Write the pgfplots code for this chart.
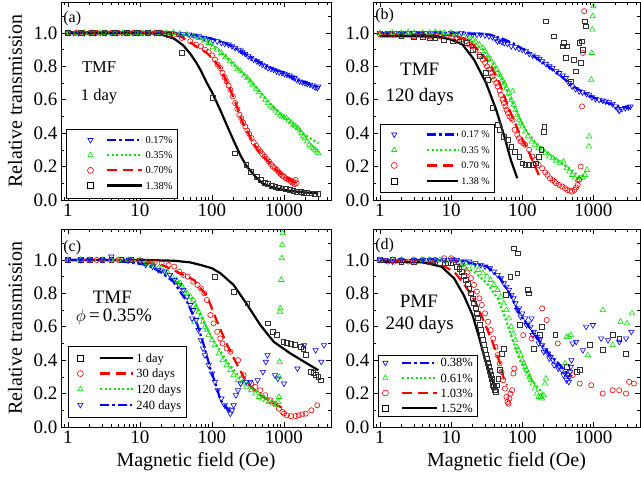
\documentclass[border=0pt]{standalone}
\usepackage{fontspec}
\setmainfont{Liberation Serif}
\usepackage{pgfplots}
\pgfplotsset{compat=1.18}
\pgfkeys{/pgf/number format/assume math mode=true}
\definecolor{mgreen}{RGB}{10,225,10}
\definecolor{mgray}{RGB}{50,50,50}
\tikzset{
  ann/.style={font=\fontsize{19}{19}\selectfont, anchor=base, inner sep=0pt},
  anna/.style={font=\fontsize{16.5}{16.5}\selectfont, anchor=base, inner sep=0pt},
  plab/.style={font=\fontsize{16}{16}\selectfont, anchor=base west, inner sep=0pt},
}
\pgfplotsset{
  mB/.style={only marks, mark=triangle, mark size=3.1pt, blue, mark options={rotate=180, line width=0.6pt, solid}, forget plot},
  mG/.style={only marks, mark=triangle, mark size=3.1pt, mgreen, mark options={line width=0.6pt, solid}, forget plot},
  mR/.style={only marks, mark=o, mark size=2.6pt, red, mark options={line width=0.6pt, solid}, forget plot},
  mK/.style={only marks, mark=square, mark size=2.4pt, mgray, mark options={line width=0.6pt, solid}, forget plot},
  lB/.style={blue, line width=2.2pt, dash pattern=on 9pt off 3pt on 2.5pt off 3pt, no marks},
  lG/.style={mgreen, line width=2.2pt, dash pattern=on 2pt off 2.4pt, no marks},
  lR/.style={red, line width=2.2pt, dash pattern=on 10pt off 5.5pt, no marks},
  lK/.style={black, line width=2.2pt, solid, no marks},
  LI/.style n args={6}{legend image code/.code={
     \node[inner sep=0pt, outer sep=0pt, anchor=west, draw=none, fill=none] at (0pt,0pt) {\tikz{
       \path[draw=none, fill=none] (0pt,-3.6pt) rectangle (#6,3.6pt);
       \path[draw=#1, line width=0.6pt, solid, mark size=3pt] plot[only marks, mark=#2] coordinates {(#4,0pt)};
       \path[draw=#1, line width=2.2pt, #3] (#5,0pt) -- (#6,0pt);
     }};
  }},
  mypanel/.style={
    scale only axis, xmin=0.8, xmax=4500, ymin=0, ymax=1.185,
    xtick={1,10,100,1000}, xticklabels={1,10,100,1000},
    minor xtick={0.9,2,3,4,5,6,7,8,9,20,30,40,50,60,70,80,90,200,300,400,500,600,700,800,900,2000,3000,4000},
    ytick={0,0.2,0.4,0.6,0.8,1.0},
    minor ytick={0.1,0.3,0.5,0.7,0.9,1.1},
    yticklabel style={/pgf/number format/.cd, fixed, fixed zerofill, precision=1},
    tick label style={font=\fontsize{19}{19}\selectfont},
    label style={font=\fontsize{20}{20}\selectfont},
    major tick length=5pt, minor tick length=3pt,
    every tick/.style={black, line width=0.6pt},
    axis line style={line width=0.9pt},
    tick align=inside,
    legend cell align=left,
    ylabel style={at={(axis description cs:-0.17,0.5)}, anchor=center},
    xlabel style={at={(axis description cs:0.5,-0.177)}, anchor=center},
  },
}
\begin{document}
\begin{tikzpicture}
\path[use as bounding box] (0pt,0pt) rectangle (641pt,478pt);
% ---------------- (a)
\begin{axis}[xmode=log, mypanel, at={(61pt,278pt)}, anchor=south west, width=270pt, height=198pt,
  ylabel={Relative transmission},
  legend style={at={(0.019,0.008)}, anchor=south west, draw=black, line width=0.7pt,
    font=\fontsize{10.5}{12}\selectfont, inner xsep=3pt, inner ysep=5.5pt, row sep=2.7pt}]
\addplot[mB] coordinates {(1,1)(1.2,1)(1.4,1)(1.7,1)(2,1)(2.4,1)(2.8,1)(3.3,1)(4,1)(4.7,1)(5.6,1)(6.6,1)(8,1)(9.5,1)(11,1)(13,1)(16,1)(19,1)(23,1)(28,0.998)(34,0.995)(40,0.992)(48,0.99)(56,0.985)(66,0.98)(78,0.97)(90,0.965)(103,0.955)(118,0.95)(135,0.94)(150,0.935)(170,0.93)(190,0.92)(210,0.91)(236,0.90)(250,0.895)(265,0.885)(290,0.875)(320,0.86)(350,0.85)(380,0.84)(420,0.83)(460,0.82)(500,0.81)(550,0.80)(600,0.79)(660,0.785)(720,0.78)(790,0.77)(860,0.765)(940,0.76)(1020,0.755)(1100,0.75)(1200,0.745)(1300,0.735)(1400,0.73)(1500,0.72)(1650,0.71)(1800,0.705)(1950,0.70)(2100,0.695)(2300,0.69)(2500,0.685)(2700,0.675)(2900,0.67)(3000,0.68)};
\addplot[mG] coordinates {(1,1)(1.3,1)(1.7,1)(2.2,1)(2.8,1)(3.5,1)(4.5,1)(5.7,1)(7,1)(9,1)(11,1)(14,1)(18,1)(23,1)(29,1)(36,0.995)(45,0.99)(55,0.98)(66,0.97)(78,0.955)(90,0.94)(103,0.915)(118,0.90)(135,0.88)(155,0.855)(178,0.83)(200,0.81)(225,0.785)(250,0.77)(280,0.745)(310,0.73)(340,0.71)(370,0.69)(410,0.665)(450,0.645)(500,0.62)(550,0.60)(600,0.58)(650,0.56)(700,0.55)(760,0.535)(820,0.52)(880,0.505)(940,0.50)(1000,0.495)(1080,0.49)(1160,0.475)(1250,0.465)(1350,0.45)(1450,0.44)(1550,0.43)(1650,0.415)(1750,0.40)(1850,0.38)(1950,0.37)(2100,0.35)(2250,0.33)(2400,0.32)(2550,0.31)(2700,0.30)(2850,0.29)(3000,0.28)};
\addplot[mR] coordinates {(1,1)(1.3,1)(1.6,1)(2,1)(2.5,1)(3.2,1)(4,1)(5,1)(6.3,1)(8,1)(10,1)(12.5,1)(16,1)(20,1)(25,0.995)(30,0.99)(38,0.97)(50,0.95)(60,0.93)(70,0.92)(80,0.90)(90,0.885)(100,0.865)(110,0.84)(120,0.81)(130,0.79)(140,0.76)(150,0.735)(160,0.71)(170,0.685)(180,0.66)(195,0.62)(210,0.58)(225,0.545)(240,0.51)(255,0.49)(270,0.465)(290,0.44)(310,0.415)(330,0.395)(355,0.37)(380,0.345)(410,0.325)(440,0.305)(470,0.29)(500,0.275)(540,0.26)(580,0.245)(620,0.23)(660,0.215)(700,0.20)(750,0.19)(800,0.18)(850,0.165)(900,0.155)(950,0.145)(1000,0.14)(1060,0.13)(1120,0.125)(1180,0.12)(1250,0.115)(1300,0.105)(1350,0.11)(1400,0.095)(1450,0.12)(1500,0.10)};
\addplot[mK] coordinates {(1,1)(1.5,1)(2.2,1)(3.2,1)(4.5,1)(6.5,1)(9,1)(13,1)(18,1)(25,0.99)(38,0.88)(103,0.61)(210,0.28)(300,0.21)(350,0.17)(420,0.14)(480,0.12)(540,0.105)(600,0.095)(680,0.085)(760,0.08)(850,0.075)(950,0.07)(1050,0.065)(1200,0.06)(1350,0.055)(1500,0.05)(1700,0.05)(1900,0.045)(2100,0.045)(2400,0.04)(2700,0.035)(3000,0.035)};
\addplot[lB, LI={blue}{triangle, mark options={rotate=180}}{dash pattern=on 9pt off 3pt on 2.5pt off 3pt}{21pt}{38pt}{73pt}] coordinates {(1,1)(10,1)(30,0.997)(60,0.985)(100,0.965)(150,0.94)(200,0.915)(300,0.87)(500,0.815)(700,0.785)(1000,0.755)(1500,0.72)(2000,0.70)(3000,0.675)};
\addlegendentry{0.17\%}
\addplot[lG, LI={mgreen}{triangle}{dash pattern=on 2pt off 2.4pt}{21pt}{38pt}{73pt}] coordinates {(1,1)(20,1)(40,0.99)(70,0.965)(100,0.93)(130,0.89)(180,0.83)(250,0.77)(310,0.73)(400,0.68)(510,0.625)(700,0.56)(880,0.52)(1100,0.48)(1350,0.445)(1700,0.41)(2100,0.38)(2500,0.36)(3000,0.34)};
\addlegendentry{0.35\%}
\addplot[lR, LI={red}{o}{dash pattern=on 10pt off 5.5pt}{21pt}{38pt}{73pt}] coordinates {(1,1)(20,1)(30,0.99)(36,0.98)(49,0.945)(65,0.91)(85,0.88)(105,0.84)(130,0.79)(160,0.71)(196,0.62)(230,0.54)(270,0.46)(320,0.40)(375,0.34)(450,0.29)(580,0.24)(700,0.20)(880,0.16)(1100,0.13)(1350,0.11)(1500,0.10)};
\addlegendentry{0.70\%}
\addplot[lK, LI={black}{square}{solid}{21pt}{38pt}{73pt}] coordinates {(1,1)(10,1)(20,0.99)(30,0.965)(40,0.925)(50,0.875)(60,0.825)(70,0.775)(85,0.70)(100,0.645)(130,0.54)(160,0.45)(200,0.355)(250,0.265)(300,0.205)(400,0.14)(500,0.10)(700,0.075)(1000,0.06)(1500,0.05)(2000,0.045)(3000,0.04)};
\addlegendentry{1.38\%}
\node[plab] at (axis description cs:0.008,0.894) {(a)};
\node[anna] at (axis description cs:0.141,0.646) {TMF};
\node[anna] at (axis description cs:0.141,0.505) {1 day};
\end{axis}
% ---------------- (b)
\begin{axis}[xmode=log, mypanel, at={(373pt,278pt)}, anchor=south west, width=267pt, height=198pt,
  legend style={at={(0.026,0.035)}, anchor=south west, draw=black, line width=0.7pt,
    font=\fontsize{10}{12}\selectfont, inner xsep=3pt, inner ysep=5pt, row sep=3.3pt}]
\addplot[mB] coordinates {(1,1)(1.3,1)(1.6,1)(2,1)(2.5,1)(3,1)(3.7,1)(4.5,1)(5.5,1)(6.7,1)(8,0.995)(10,1)(12,0.995)(14,1)(17,0.995)(20,0.99)(23,0.99)(26,0.99)(30,0.985)(34,0.98)(38,0.975)(42,0.965)(45,0.95)(48,0.955)(52,0.945)(56,0.94)(62,0.935)(70,0.92)(80,0.915)(90,0.905)(100,0.90)(112,0.89)(125,0.875)(140,0.865)(160,0.855)(174,0.845)(190,0.83)(215,0.815)(240,0.80)(265,0.79)(300,0.77)(330,0.76)(370,0.745)(410,0.73)(450,0.70)(500,0.68)(560,0.665)(630,0.65)(700,0.645)(800,0.635)(870,0.63)(950,0.615)(1070,0.605)(1200,0.60)(1350,0.595)(1480,0.59)(1650,0.585)(1850,0.575)(2040,0.56)(2200,0.545)(2300,0.535)(2500,0.545)(2800,0.55)(3100,0.555)(3300,0.56)};
\addplot[mG] coordinates {(1,1)(1.5,1.0)(2,1.0)(2.5,1.005)(3,1.0)(4,1.0)(5,1.0)(6,1.005)(7,1.0)(8,1.0)(10,1.0)(12,0.99)(15,0.98)(18,0.97)(20,0.96)(22,0.95)(25,0.93)(28,0.91)(30,0.89)(33,0.86)(36,0.84)(40,0.81)(44,0.78)(48,0.75)(52,0.72)(56,0.70)(60,0.67)(65,0.64)(70,0.60)(73,0.65)(76,0.57)(80,0.54)(85,0.51)(90,0.48)(95,0.46)(100,0.44)(110,0.41)(120,0.38)(135,0.35)(150,0.33)(170,0.31)(190,0.30)(210,0.28)(240,0.26)(270,0.25)(300,0.235)(340,0.22)(380,0.23)(420,0.19)(460,0.17)(500,0.15)(550,0.13)(600,0.12)(650,0.13)(700,0.135)(760,0.15)(810,0.18)(860,0.32)(870,0.38)(930,0.72)(945,0.88)(960,1.02)(975,1.10)(1000,1.16)};
\addplot[mR] coordinates {(1,0.99)(1.5,0.99)(2,0.98)(3,0.98)(4,0.985)(5,0.98)(7,0.98)(10,0.975)(12,0.97)(14,0.96)(16,0.95)(18,0.93)(20,0.92)(22,0.90)(25,0.87)(28,0.84)(30,0.82)(32,0.80)(34,0.78)(36,0.76)(38,0.74)(40,0.72)(43,0.70)(45,0.68)(48,0.655)(50,0.63)(53,0.60)(55,0.58)(58,0.56)(60,0.54)(63,0.52)(66,0.50)(70,0.49)(73,0.48)(78,0.42)(85,0.39)(90,0.37)(95,0.35)(103,0.34)(110,0.33)(125,0.30)(138,0.26)(150,0.24)(170,0.21)(190,0.19)(210,0.165)(225,0.15)(245,0.13)(265,0.12)(285,0.11)(300,0.10)(330,0.09)(365,0.08)(400,0.07)(430,0.06)(470,0.055)(500,0.05)(540,0.06)(570,0.075)(600,0.09)(630,0.12)(660,0.20)(690,0.56)(710,0.88)(740,1.13)};
\addplot[mK] coordinates {(2,0.98)(3,0.975)(4,0.975)(5,0.97)(6,0.97)(8,0.96)(10.5,0.95)(13,0.95)(16.5,0.94)(20,0.90)(25,0.86)(31,0.76)(33,0.72)(38,0.55)(45,0.45)(48,0.42)(55,0.38)(62,0.36)(70,0.32)(78,0.29)(91,0.26)(100,0.22)(110,0.21)(125,0.21)(140,0.21)(155,0.22)(170,0.26)(185,0.30)(200,0.41)(204,0.44)(215,1.07)(280,0.98)(365,0.92)(385,0.94)(410,0.85)(428,0.92)(485,0.71)(535,0.84)(560,0.77)(630,0.94)(660,0.82)(690,0.95)(710,0.90)(760,1.07)(780,1.04)};
\addplot[lB, LI={blue}{triangle, mark options={rotate=180}}{dash pattern=on 9pt off 3pt on 2.5pt off 3pt}{11pt}{44pt}{75pt}] coordinates {(1,1)(10,1)(20,0.995)(35,0.99)(53,0.965)(77,0.935)(125,0.88)(215,0.81)(330,0.75)(500,0.685)(780,0.635)(1320,0.59)(2280,0.56)(3150,0.55)};
\addlegendentry{0.17 \%}
\addplot[lG, LI={mgreen}{triangle}{dash pattern=on 2pt off 2.4pt}{11pt}{44pt}{75pt}] coordinates {(1,1)(8.7,0.99)(18,0.96)(28,0.90)(38,0.82)(53,0.72)(66,0.62)(85,0.52)(112,0.42)(155,0.34)(265,0.26)(455,0.19)(630,0.14)(780,0.15)};
\addlegendentry{0.35 \%}
\addplot[lR, LI={red}{o}{dash pattern=on 10pt off 5.5pt}{11pt}{44pt}{75pt}] coordinates {(1,0.99)(10,0.985)(14,0.97)(18,0.95)(25,0.89)(35,0.82)(48,0.70)(66,0.54)(91,0.40)(126,0.28)(155,0.19)(175,0.14)};
\addlegendentry{0.70 \%}
\addplot[lK, LI={black}{square}{solid}{11pt}{44pt}{75pt}] coordinates {(1,0.98)(4,0.98)(7,0.975)(10,0.96)(14.5,0.93)(21,0.84)(31,0.70)(43,0.54)(56,0.38)(69,0.24)(85,0.13)};
\addlegendentry{1.38 \%}
\node[plab] at (axis description cs:0.008,0.91) {(b)};
\node[ann] at (axis description cs:0.175,0.63) {TMF};
\node[ann] at (axis description cs:0.175,0.495) {120 days};
\end{axis}
% ---------------- (c)
\begin{axis}[xmode=log, mypanel, at={(61pt,51pt)}, anchor=south west, width=270pt, height=198pt,
  ylabel={Relative transmission}, xlabel={Magnetic field (Oe)},
  legend style={at={(0.026,0.045)}, anchor=south west, draw=black, line width=0.7pt,
    font=\fontsize{12.5}{13}\selectfont, inner xsep=3pt, inner ysep=5pt, row sep=1.5pt}]
\addplot[mK] coordinates {(1,1)(1.5,1)(2,1)(3,1)(4,1)(5.5,1)(7.5,1)(10,0.995)(110,0.90)(200,0.81)(310,0.74)(590,0.62)(700,0.57)(800,0.55)(980,0.51)(1100,0.505)(1230,0.50)(1400,0.49)(1700,0.48)(1850,0.47)(1990,0.43)(2330,0.33)(2550,0.325)(2750,0.31)(3000,0.30)(3220,0.28)};
\addplot[mR] coordinates {(1,1)(1.5,1)(2,1)(2.5,1)(3,1)(4,1)(5,1)(7,1)(10,0.995)(13,0.99)(16,0.985)(20,0.98)(25,0.97)(30,0.96)(35,0.93)(40,0.91)(46,0.90)(55,0.87)(63,0.85)(70,0.83)(78,0.80)(85,0.76)(95,0.67)(105,0.62)(118,0.57)(130,0.53)(140,0.50)(160,0.47)(180,0.45)(230,0.40)(275,0.31)(350,0.26)(400,0.24)(470,0.22)(550,0.19)(650,0.16)(750,0.14)(850,0.11)(950,0.09)(1000,0.08)(1100,0.07)(1250,0.065)(1450,0.065)(1600,0.07)(1800,0.075)(2000,0.08)(2400,0.10)(2900,0.13)};
\addplot[mG] coordinates {(1,1)(1.5,1)(2,1)(3,1)(4,1)(5,1)(7,1)(10,1)(12,0.98)(15,0.97)(18,0.95)(20,0.95)(24,0.93)(28,0.90)(32,0.88)(36,0.86)(40,0.83)(45,0.80)(50,0.78)(55,0.76)(57,0.63)(60,0.72)(65,0.69)(70,0.66)(75,0.63)(80,0.60)(85,0.58)(90,0.55)(100,0.52)(110,0.49)(125,0.44)(140,0.40)(160,0.37)(180,0.34)(200,0.31)(230,0.28)(260,0.26)(300,0.24)(350,0.22)(400,0.20)(450,0.18)(500,0.17)(560,0.16)(620,0.15)(700,0.14)(770,0.13)(830,0.15)(850,0.18)(860,0.30)(870,0.39)(880,0.69)(890,0.71)(920,0.88)(935,1.01)(945,1.09)(960,1.16)};
\addplot[mB] coordinates {(1,1)(1.5,1)(2,1)(3,1)(4,1.02)(7,1)(10,0.99)(12,0.97)(15,0.96)(18,0.94)(22,0.93)(26,0.91)(30,0.88)(35,0.85)(40,0.82)(45,0.78)(50,0.73)(53,0.65)(55,0.70)(60,0.64)(65,0.58)(70,0.52)(75,0.47)(80,0.43)(90,0.37)(100,0.32)(110,0.27)(120,0.22)(135,0.17)(150,0.13)(165,0.11)(180,0.08)(190,0.10)(200,0.13)(215,0.19)(230,0.22)(250,0.26)(300,0.27)(340,0.27)(430,0.28)(510,0.33)(560,0.39)(590,0.43)(750,0.31)(820,0.29)(1000,0.26)(1540,0.35)(1900,0.49)(2750,0.46)(3300,0.39)(3600,0.49)};
\addplot[lK, LI={black}{square}{solid}{9pt}{29pt}{62pt}] coordinates {(1,1)(10,1)(30,0.995)(50,0.985)(69,0.97)(100,0.95)(131,0.92)(200,0.85)(310,0.73)(470,0.61)(720,0.51)(1230,0.44)(2090,0.38)(3000,0.34)};
\addlegendentry{1 day}
\addplot[lR, LI={red}{o}{dash pattern=on 10pt off 5.5pt}{9pt}{29pt}{62pt}] coordinates {(1,1)(10,0.995)(20,0.97)(29,0.94)(56,0.88)(86,0.78)(118,0.63)(163,0.49)(225,0.37)(310,0.26)(470,0.19)(810,0.13)(1000,0.11)};
\addlegendentry{30 days}
\addplot[lG, LI={mgreen}{triangle}{dash pattern=on 2pt off 2.4pt}{9pt}{29pt}{62pt}] coordinates {(1,1)(6.6,1)(12.6,0.98)(24,0.92)(36,0.85)(56,0.75)(77,0.63)(107,0.51)(163,0.39)(250,0.29)(430,0.21)(720,0.15)(850,0.12)};
\addlegendentry{120 days}
\addplot[lB, LI={blue}{triangle, mark options={rotate=180}}{dash pattern=on 9pt off 3pt on 2.5pt off 3pt}{9pt}{29pt}{62pt}] coordinates {(1,1)(3.9,1)(12.5,0.97)(19,0.93)(29,0.87)(45,0.75)(63,0.61)(77,0.49)(95,0.35)(118,0.23)(131,0.16)(163,0.11)(180,0.09)};
\addlegendentry{240 days}
\node[plab] at (axis description cs:0.008,0.885) {(c)};
\node[ann] at (axis description cs:0.19,0.626) {TMF};
\node[ann] at (axis description cs:0.196,0.535) {$\phi$\,=\,0.35\%};
\end{axis}
% ---------------- (d)
\begin{axis}[xmode=log, mypanel, at={(373pt,51pt)}, anchor=south west, width=267pt, height=198pt,
  xlabel={Magnetic field (Oe)},
  legend style={at={(0.019,0.05)}, anchor=south west, draw=black, line width=0.7pt,
    font=\fontsize{12.5}{13}\selectfont, inner xsep=3pt, inner ysep=1pt, row sep=1.3pt}]
\addplot[mK] coordinates {(1,1)(1.5,1)(2,0.99)(3,0.99)(5,0.99)(7,0.98)(9,0.98)(10,0.98)(12,0.96)(13,0.945)(14,0.93)(15,0.905)(16,0.88)(17,0.855)(18,0.83)(19,0.80)(20,0.77)(21,0.74)(22,0.71)(23,0.68)(24,0.65)(25,0.61)(26,0.58)(27,0.55)(28,0.52)(29,0.49)(30,0.46)(31,0.435)(32,0.41)(33,0.385)(34,0.36)(35,0.335)(36,0.31)(37,0.29)(38,0.27)(39,0.25)(40,0.24)(41,0.22)(42,0.21)(44,0.25)(46,0.29)(48,0.34)(52,0.44)(55,0.47)(58,0.79)(68,0.90)(76,1.07)(87,1.04)(85,0.92)(93,0.61)(118,0.82)(122,0.80)(145,0.47)(178,0.55)(190,0.60)(290,0.55)(425,0.36)(580,0.33)(640,0.34)(880,0.49)(1350,0.46)(1850,0.55)(2300,0.53)(2870,0.44)};
\addplot[mR] coordinates {(1,1)(1.3,0.99)(1.6,0.99)(2,1.0)(2.5,0.99)(3,1.0)(4,1.0)(5,1.0)(6,1.0)(8,1.01)(10,1.01)(11,1.0)(13,0.98)(15,0.955)(17,0.925)(19,0.89)(21,0.85)(23,0.81)(25,0.77)(27,0.73)(30,0.68)(33,0.63)(36,0.58)(39,0.53)(42,0.48)(45,0.43)(48,0.38)(51,0.33)(54,0.28)(57,0.23)(60,0.18)(62,0.15)(64,0.14)(66,0.17)(68,0.20)(72,0.22)(75,0.32)(77,0.35)(103,0.55)(135,0.53)(190,0.71)(220,0.64)(315,0.50)(510,0.31)(640,0.26)(930,0.25)(1350,0.20)(1860,0.22)(2300,0.22)(2860,0.20)(3170,0.27)(3700,0.26)};
\addplot[mG] coordinates {(1,1)(1.5,1)(2,1)(3,1)(4,1)(5,1)(7,1)(10,1)(13,0.99)(16,0.98)(20,0.96)(24,0.94)(28,0.92)(32,0.90)(36,0.88)(40,0.85)(45,0.82)(50,0.78)(55,0.74)(60,0.70)(65,0.65)(70,0.60)(75,0.56)(80,0.52)(84,0.48)(88,0.46)(95,0.43)(100,0.40)(105,0.38)(110,0.36)(115,0.34)(120,0.32)(125,0.30)(132,0.28)(140,0.26)(150,0.23)(160,0.20)(170,0.18)(180,0.18)(190,0.17)(200,0.19)(208,0.26)(215,0.29)(400,0.38)(420,0.54)(450,0.54)(480,0.55)(830,0.43)(1350,0.70)(1860,0.49)(2400,0.63)(2960,0.62)(3470,0.68)};
\addplot[mB] coordinates {(1,1)(1.2,1)(1.5,0.99)(2,1)(3,1)(4,1)(5,1)(6,1)(8,1)(10,1)(12,1)(15,0.99)(18,0.99)(22,0.98)(26,0.97)(30,0.96)(35,0.95)(40,0.93)(45,0.91)(50,0.89)(55,0.86)(60,0.84)(65,0.82)(70,0.79)(75,0.77)(80,0.74)(85,0.70)(90,0.71)(95,0.66)(100,0.68)(110,0.65)(115,0.61)(120,0.62)(130,0.60)(135,0.65)(140,0.55)(145,0.57)(160,0.54)(170,0.50)(175,0.52)(190,0.49)(200,0.45)(210,0.46)(230,0.44)(240,0.41)(250,0.42)(270,0.40)(280,0.37)(300,0.38)(320,0.35)(330,0.36)(360,0.34)(380,0.31)(400,0.32)(420,0.28)(430,0.31)(450,0.27)(460,0.30)(470,0.33)(480,0.36)(490,0.40)(510,0.50)(570,0.51)(710,0.46)(790,0.60)(980,0.61)(1280,0.53)(1600,0.52)(2300,0.51)(2870,0.53)(3400,0.57)};
\addplot[lB, LI={blue}{triangle, mark options={rotate=180}}{dash pattern=on 9pt off 3pt on 2.5pt off 3pt}{4pt}{21pt}{56pt}] coordinates {(1,1)(15,0.995)(19,0.98)(32,0.96)(49,0.89)(68,0.79)(93,0.67)(129,0.59)(178,0.51)(245,0.43)(340,0.37)(465,0.30)};
\addlegendentry{0.38\%}
\addplot[lG, LI={mgreen}{triangle}{dash pattern=on 2pt off 2.4pt}{4pt}{21pt}{56pt}] coordinates {(1,1)(11,0.99)(21,0.93)(32,0.86)(45,0.77)(58,0.65)(72,0.53)(93,0.40)(129,0.29)(178,0.22)(195,0.19)};
\addlegendentry{0.61\%}
\addplot[lR, LI={red}{o}{dash pattern=on 10pt off 5.5pt}{4pt}{21pt}{56pt}] coordinates {(1,1)(4,0.99)(7.3,0.97)(11,0.93)(15,0.86)(22,0.75)(29,0.63)(38,0.51)(47,0.40)(55,0.29)(61,0.25)};
\addlegendentry{1.03\%}
\addplot[lK, LI={black}{square}{solid}{4pt}{21pt}{56pt}] coordinates {(1,0.99)(4,0.985)(7.3,0.96)(11,0.89)(15,0.79)(20,0.67)(25,0.53)(30,0.40)(38,0.28)(42,0.22)};
\addlegendentry{1.52\%}
\node[plab] at (axis description cs:0.008,0.894) {(d)};
\node[ann] at (axis description cs:0.172,0.606) {PMF};
\node[ann] at (axis description cs:0.175,0.49) {240 days};
\end{axis}
\end{tikzpicture}
\end{document}
